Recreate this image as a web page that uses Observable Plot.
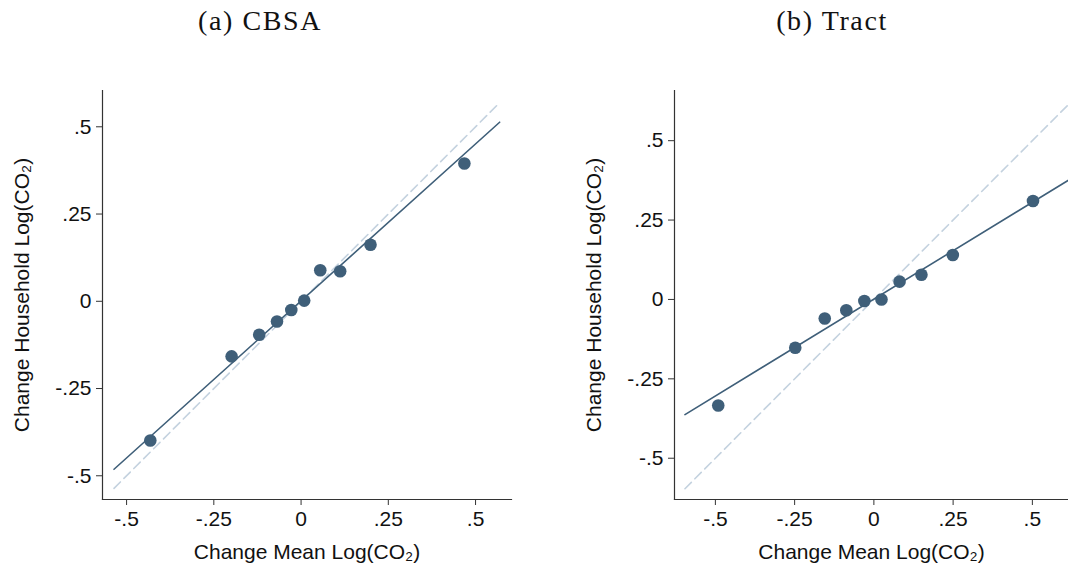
<!DOCTYPE html>
<html>
<head>
<meta charset="utf-8">
<script src="https://cdn.jsdelivr.net/npm/d3@7"></script>
<script src="https://cdn.jsdelivr.net/npm/@observablehq/plot@0.6"></script>
<style>
  html, body { margin: 0; padding: 0; background: #fff; }
  #wrap { position: relative; width: 1068px; height: 565px; overflow: hidden; }
  .title { position: absolute; top: 5px; width: 300px; text-align: center;
           font-family: "Liberation Serif", "DejaVu Serif", serif; font-size: 28px; color: #111; letter-spacing: 1.6px; }
  .panel { position: absolute; top: 0; }
</style>
</head>
<body>
<div id="wrap">
  <div class="panel" id="p1" style="left:0px"></div>
  <div class="panel" id="p2" style="left:534px"></div>
  <div class="title" id="t1" style="left:110px">(a) CBSA</div>
  <div class="title" id="t2" style="left:682px">(b) Tract</div>
</div>
<script>
// ---- data ----
const tickValues = [-0.5, -0.25, 0, 0.25, 0.5];
const xLabel = "Change Mean Log(CO₂)";
const yLabel = "Change Household Log(CO₂)";

// (a) CBSA binned scatter
const cbsaX = [-0.432, -0.199, -0.120, -0.069, -0.028, 0.009, 0.055, 0.112, 0.199, 0.468];
const cbsaY = [-0.399, -0.158, -0.096, -0.058, -0.025, 0.002, 0.089, 0.086, 0.162, 0.395];
const cbsaFitSlope = 0.90;
const cbsaFitIntercept = 0.001;
const cbsaLineRange = [-0.536, 0.569];
const cbsaXDomain = [-0.569, 0.603];
const cbsaYDomain = [-0.568, 0.604];

// (b) Tract binned scatter
const tractX = [-0.491, -0.248, -0.155, -0.087, -0.030, 0.024, 0.081, 0.150, 0.249, 0.502];
const tractY = [-0.334, -0.152, -0.060, -0.034, -0.005, 0.000, 0.056, 0.078, 0.140, 0.310];
const tractFitSlope = 0.61;
const tractFitIntercept = 0.001;
const tractLineRange = [-0.596, 0.62];
const tractXDomain = [-0.629, 0.614];
const tractYDomain = [-0.630, 0.658];

const dotColor = "#3f5f79";
const fitColor = "#3f5f79";
const diagColor = "#c4d2df";
const axisColor = "#333333";
const FONT = "'Liberation Sans', Arial, Helvetica, sans-serif";

const fmt = d => d === 0 ? "0" : String(d).replace("0.", ".");

function panel({xs, ys, slope, intercept, range, xDomain, yDomain, marginLeft, marginRight}) {
  const pts = xs.map((x, i) => ({x, y: ys[i]}));
  const fit = range.map(x => ({x, y: intercept + slope * x}));
  const diag = range.map(x => ({x, y: x}));
  return Plot.plot({
    width: 534,
    height: 565,
    marginTop: 90,
    marginBottom: 66,
    marginLeft,
    marginRight,
    style: {fontFamily: FONT, fontSize: "21px", color: "#111", background: "transparent", overflow: "visible"},
    x: {domain: xDomain, ticks: tickValues, tickFormat: fmt},
    y: {domain: yDomain, ticks: tickValues, tickFormat: fmt},
    marks: [
      Plot.line(diag, {x: "x", y: "y", stroke: diagColor, strokeWidth: 1.6, strokeDasharray: "9,5"}),
      Plot.line(fit, {x: "x", y: "y", stroke: fitColor, strokeWidth: 1.6}),
      Plot.dot(pts, {x: "x", y: "y", r: 6.3, fill: dotColor, stroke: "none"}),
      Plot.frame({anchor: "left", stroke: axisColor, strokeWidth: 1.2}),
      Plot.frame({anchor: "bottom", stroke: axisColor, strokeWidth: 1.2}),
      Plot.axisX({ticks: tickValues, tickFormat: fmt, tickSize: 6, tickPadding: 6, stroke: axisColor,
                  label: xLabel, labelAnchor: "center", labelArrow: "none", labelOffset: 59, fontSize: 21}),
      Plot.axisY({ticks: tickValues, tickFormat: fmt, tickSize: 6, tickPadding: 5, stroke: axisColor,
                  label: yLabel, labelAnchor: "center", labelArrow: "none", labelOffset: 88, fontSize: 21})
    ]
  });
}

document.getElementById("p1").append(panel({
  xs: cbsaX, ys: cbsaY, slope: cbsaFitSlope, intercept: cbsaFitIntercept,
  range: cbsaLineRange, xDomain: cbsaXDomain, yDomain: cbsaYDomain, marginLeft: 102, marginRight: 23
}));
document.getElementById("p2").append(panel({
  xs: tractX, ys: tractY, slope: tractFitSlope, intercept: tractFitIntercept,
  range: tractLineRange, xDomain: tractXDomain, yDomain: tractYDomain, marginLeft: 140, marginRight: 0
}));
</script>
</body>
</html>
